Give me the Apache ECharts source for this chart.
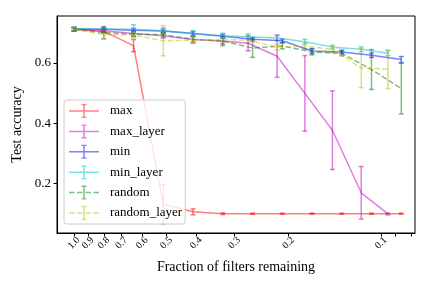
<!DOCTYPE html>
<html>
<head>
<meta charset="utf-8">
<script src="https://cdn.jsdelivr.net/npm/echarts@6/dist/echarts.min.js"></script>
<style>html,body{margin:0;padding:0;background:#fff}#c{width:432px;height:288px}</style>
</head>
<body>
<div id="c"></div>
<script>
// Fractions of filters remaining (x) for global and layer-wise pruning
const fracs = [1, 0.8, 0.64, 0.512, 0.4096, 0.32768, 0.262, 0.2097, 0.1678, 0.1342, 0.1074, 0.0859];
const fracsLayer = [1, 0.8, 0.64, 0.512, 0.4096, 0.32768, 0.271, 0.218, 0.177, 0.144, 0.116, 0.095];

const maxAcc = [0.711, 0.704, 0.657, 0.132, 0.107, 0.101, 0.101, 0.101, 0.101, 0.101, 0.101, 0.101];
const maxErr = [0.006, 0.005, 0.02, 0.065, 0.01, 0.003, 0.002, 0.002, 0.002, 0.002, 0.002, 0.002];

const maxLayerAcc = [0.711, 0.706, 0.697, 0.69, 0.677, 0.672, 0.665, 0.622, 0.499, 0.377, 0.17, 0.1];
const maxLayerErr = [0.006, 0.006, 0.008, 0.008, 0.012, 0.01, 0.025, 0.07, 0.125, 0.13, 0.087, 0.003];

const minAcc = [0.712, 0.711, 0.708, 0.705, 0.697, 0.688, 0.678, 0.673, 0.639, 0.636, 0.625, 0.611];
const minErr = [0.005, 0.005, 0.006, 0.006, 0.006, 0.006, 0.006, 0.006, 0.008, 0.006, 0.007, 0.01];

const minLayerAcc = [0.712, 0.712, 0.711, 0.706, 0.697, 0.69, 0.686, 0.682, 0.67, 0.652, 0.645, 0.632];
const minLayerErr = [0.005, 0.005, 0.015, 0.01, 0.01, 0.008, 0.01, 0.008, 0.008, 0.006, 0.008, 0.008];

const randomAcc = [0.711, 0.700, 0.695, 0.693, 0.678, 0.672, 0.649, 0.656, 0.636, 0.631, 0.578, 0.515];
const randomErr = [0.006, 0.02, 0.008, 0.008, 0.008, 0.015, 0.031, 0.01, 0.01, 0.008, 0.066, 0.084];

const randomLayerAcc = [0.712, 0.693, 0.692, 0.673, 0.675, 0.677, 0.675, 0.652, 0.655, 0.645, 0.583, 0.579];
const randomLayerErr = [0.005, 0.015, 0.01, 0.05, 0.01, 0.008, 0.01, 0.01, 0.01, 0.01, 0.065, 0.064];

const xTickValues = [1.0, 0.9, 0.8, 0.7, 0.6, 0.5, 0.4, 0.3, 0.2, 0.1, 0.09, 0.08];
const xLabelValues = [1.0, 0.9, 0.8, 0.7, 0.6, 0.5, 0.4, 0.3, 0.2, 0.1];
const yTickValues = [0.2, 0.4, 0.6];

const FONT = 'Liberation Serif';
const seriesDefs = [
  {name: 'max', x: fracs, y: maxAcc, e: maxErr, color: 'rgba(255,0,0,0.5)', dashed: false},
  {name: 'max_layer', x: fracsLayer, y: maxLayerAcc, e: maxLayerErr, color: 'rgba(191,0,191,0.5)', dashed: false},
  {name: 'min', x: fracs, y: minAcc, e: minErr, color: 'rgba(0,0,255,0.5)', dashed: false},
  {name: 'min_layer', x: fracsLayer, y: minLayerAcc, e: minLayerErr, color: 'rgba(0,191,191,0.5)', dashed: false},
  {name: 'random', x: fracs, y: randomAcc, e: randomErr, color: 'rgba(0,128,0,0.5)', dashed: true},
  {name: 'random_layer', x: fracsLayer, y: randomLayerAcc, e: randomLayerErr, color: 'rgba(191,191,0,0.5)', dashed: true}
];

const solidIcon = 'path://M0 6.25H30V7.75H0Z M14.25 0H15.75V14H14.25Z M12.5 0H17.5V1.3H12.5Z M12.5 12.7H17.5V14H12.5Z';
const dashedIcon = 'path://M0 6.25H5.5V7.75H0Z M8 6.25H13.5V7.75H8Z M16.5 6.25H22V7.75H16.5Z M24.5 6.25H30V7.75H24.5Z M14.25 0H15.75V14H14.25Z M12.5 0H17.5V1.3H12.5Z M12.5 12.7H17.5V14H12.5Z';

const series = [];
seriesDefs.forEach(d => {
  series.push({
    name: d.name,
    type: 'line',
    data: d.x.map((v, i) => [v, d.y[i]]),
    showSymbol: false,
    symbol: 'none',
    lineStyle: {color: d.color, width: 1.5, type: d.dashed ? [5.5, 2.4] : 'solid'},
    itemStyle: {color: d.color},
    z: 2
  });
  series.push({
    name: d.name + '_err',
    type: 'custom',
    data: d.x.map((v, i) => [v, d.y[i], d.e[i]]),
    encode: {x: 0, y: 1},
    z: 2,
    renderItem: function (params, api) {
      const x = api.value(0), y = api.value(1), e = api.value(2);
      const top = api.coord([x, y + e]);
      const bot = api.coord([x, y - e]);
      const style = {stroke: d.color, lineWidth: 1.5, fill: null};
      const c = 2.5;
      return {
        type: 'group',
        children: [
          {type: 'line', shape: {x1: top[0], y1: top[1], x2: bot[0], y2: bot[1]}, style: style},
          {type: 'line', shape: {x1: top[0] - c, y1: top[1], x2: top[0] + c, y2: top[1]}, style: style},
          {type: 'line', shape: {x1: bot[0] - c, y1: bot[1], x2: bot[0] + c, y2: bot[1]}, style: style}
        ]
      };
    }
  });
});

const chart = echarts.init(document.getElementById('c'), null, {renderer: 'canvas'});
chart.setOption({
  animation: false,
  backgroundColor: '#fff',
  grid: {left: 57, right: 17, top: 16, bottom: 55, show: true, borderColor: '#000', borderWidth: 1, backgroundColor: 'transparent'},
  legend: {
    orient: 'vertical',
    left: 64, top: 100,
    padding: [4, 3, 4, 5],
    itemGap: 6.4,
    itemWidth: 30, itemHeight: 14,
    borderColor: '#ccc', borderWidth: 1, borderRadius: 3,
    backgroundColor: 'rgba(255,255,255,0.8)',
    textStyle: {fontFamily: FONT, fontSize: 13, color: '#000', padding: [0, 0, 0, 6]},
    data: seriesDefs.map(d => ({name: d.name, icon: d.dashed ? dashedIcon : solidIcon, itemStyle: {color: d.color}}))
  },
  xAxis: {
    type: 'log',
    inverse: true,
    min: 0.0775, max: 1.136,
    name: 'Fraction of filters remaining',
    nameLocation: 'middle',
    nameGap: 27,
    nameTextStyle: {fontFamily: FONT, fontSize: 14, color: '#000'},
    axisLine: {show: true, onZero: false, lineStyle: {color: '#000', width: 1}},
    axisTick: {show: true, length: 3.5, inside: false, customValues: xTickValues, lineStyle: {color: '#000'}},
    minorTick: {show: false},
    splitLine: {show: false},
    axisLabel: {
      customValues: xLabelValues,
      rotate: 45,
      align: 'center',
      verticalAlign: 'middle',
      margin: 10,
      fontFamily: FONT, fontSize: 10, color: '#000',
      formatter: v => Number(v).toFixed(1)
    }
  },
  yAxis: {
    type: 'value',
    min: 0.037, max: 0.755,
    name: 'Test accuracy',
    nameLocation: 'middle',
    nameGap: 28,
    nameTextStyle: {fontFamily: FONT, fontSize: 14, color: '#000'},
    axisLine: {show: true, lineStyle: {color: '#000', width: 1}},
    axisTick: {show: true, length: 3.5, customValues: yTickValues, lineStyle: {color: '#000'}},
    splitLine: {show: false},
    axisLabel: {
      customValues: yTickValues,
      margin: 6,
      fontFamily: FONT, fontSize: 13, color: '#000',
      formatter: v => Number(v).toFixed(1)
    }
  },
  series: series
});
</script>
</body>
</html>
